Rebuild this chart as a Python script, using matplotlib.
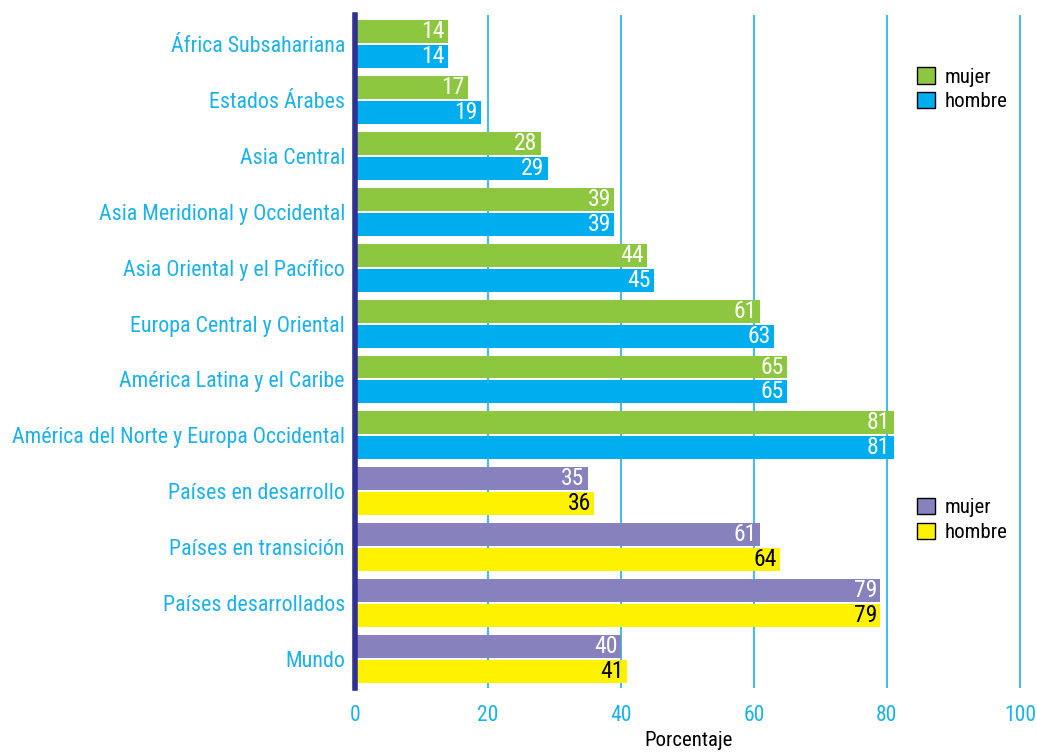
import numpy as np
import matplotlib.pyplot as plt
from matplotlib.patches import Patch

plt.rcParams['font.family'] = ['Liberation Sans Narrow', 'DejaVu Sans Condensed', 'Roboto Condensed', 'Roboto', 'DejaVu Sans']

regiones = ['África Subsahariana', 'Estados Árabes', 'Asia Central',
            'Asia Meridional y Occidental', 'Asia Oriental y el Pacífico',
            'Europa Central y Oriental', 'América Latina y el Caribe',
            'América del Norte y Europa Occidental', 'Países en desarrollo',
            'Países en transición', 'Países desarrollados', 'Mundo']
mujer = [14, 17, 28, 39, 44, 61, 65, 81, 35, 61, 79, 40]
hombre = [14, 19, 29, 39, 45, 63, 65, 81, 36, 64, 79, 41]
n_regiones = 8  # first 8 rows use green/blue, rest purple/yellow

VERDE = '#8DC63F'
AZUL = '#00AEEF'
MORADO = '#8781BD'
AMARILLO = '#FFF200'
CIAN = '#1BB2EA'

fig = plt.figure(figsize=(10.37, 7.53), dpi=100)
ax = fig.add_axes([0.342, 0.0863, 0.6435, 0.8937])

y = np.arange(len(regiones))
h = 0.41
off = 0.223
for i in range(len(regiones)):
    cm = VERDE if i < n_regiones else MORADO
    ch = AZUL if i < n_regiones else AMARILLO
    tc = 'white' if i < n_regiones else 'black'
    ax.barh(y[i] - off, mujer[i], height=h, color=cm, zorder=3)
    ax.barh(y[i] + off, hombre[i], height=h, color=ch, zorder=3)
    ax.text(mujer[i] - 0.5, y[i] - off, str(mujer[i]), ha='right', va='center',
            color='white', fontsize=17, zorder=4)
    ax.text(hombre[i] - 0.5, y[i] + off, str(hombre[i]), ha='right', va='center',
            color=tc, fontsize=17, zorder=4)

ax.set_xlim(0, 100.3)
ax.set_ylim(11.52, -0.52)
ax.set_xticks([0, 20, 40, 60, 80, 100])
ax.set_yticks(y)
ax.set_yticklabels(regiones)
ax.tick_params(axis='y', length=0, labelsize=15.8, labelcolor=CIAN, pad=7)
ax.tick_params(axis='x', length=0, labelsize=15.5, labelcolor=CIAN, pad=12)
for s in ['top', 'right', 'bottom']:
    ax.spines[s].set_visible(False)
ax.spines['left'].set_color('#2E3192')
ax.spines['left'].set_linewidth(4)
ax.spines['left'].set_zorder(5)
ax.grid(axis='x', color=CIAN, linewidth=1.2, zorder=0)
ax.set_xlabel('Porcentaje', fontsize=15, labelpad=4)

leg_kw = dict(loc='upper left', frameon=False, fontsize=15, handlelength=0.85,
              handleheight=0.85, labelspacing=0.25, handletextpad=0.5, borderaxespad=0)
leg1 = ax.legend(handles=[Patch(facecolor=VERDE, edgecolor='black', label='mujer'),
                          Patch(facecolor=AZUL, edgecolor='black', label='hombre')],
                 bbox_to_anchor=(0.83, 0.935), **leg_kw)
ax.add_artist(leg1)
ax.legend(handles=[Patch(facecolor=MORADO, edgecolor='black', label='mujer'),
                   Patch(facecolor=AMARILLO, edgecolor='black', label='hombre')],
          bbox_to_anchor=(0.83, 0.295), **leg_kw)

plt.savefig('out.png', dpi=100)
